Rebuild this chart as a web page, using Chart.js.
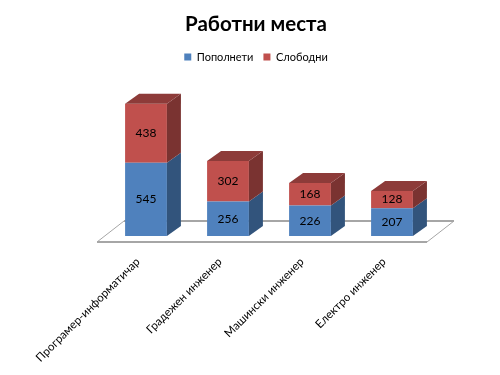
<!DOCTYPE html>
<html>
<head>
<meta charset="utf-8">
<style>
  body { margin: 0; background: #fff; }
</style>
<script src="https://cdn.jsdelivr.net/npm/chart.js@4"></script>
</head>
<body>
<canvas id="myChart" width="500" height="375"></canvas>
<script>
var categories = ['Програмер-информатичар', 'Градежен инженер', 'Машински инженер', 'Електро инженер'];
var filled = [545, 256, 226, 207];
var vacant = [438, 302, 168, 128];

var depthX = 14, depthY = 10;
var sideColors = ['#32547c', '#7a3331'];
var topColor = '#8d3b39';

function poly(ctx, pts, fill) {
    ctx.beginPath();
    ctx.moveTo(pts[0][0], pts[0][1]);
    for (var i = 1; i < pts.length; i++) ctx.lineTo(pts[i][0], pts[i][1]);
    ctx.closePath();
    ctx.fillStyle = fill;
    ctx.fill();
}

// floor under the bars, side and top faces, value labels
var fake3d = {
    id: 'fake3d',
    beforeDatasetsDraw: function (chart) {
        var ctx = chart.ctx, a = chart.chartArea;
        var l = a.left - 8, r = a.right - 6, y = a.bottom + 6;
        ctx.save();
        ctx.strokeStyle = '#a6a6a6';
        ctx.lineWidth = 1;
        ctx.beginPath();
        ctx.moveTo(l, y);
        ctx.lineTo(l + 27, y - 21);
        ctx.lineTo(r + 27, y - 21);
        ctx.lineTo(r, y);
        ctx.stroke();
        ctx.lineWidth = 2;
        ctx.beginPath();
        ctx.moveTo(l, y);
        ctx.lineTo(r, y);
        ctx.stroke();
        ctx.beginPath();
        ctx.moveTo(l + 27, y - 21);
        ctx.lineTo(r + 27, y - 21);
        ctx.stroke();
        ctx.restore();
    },
    afterDatasetsDraw: function (chart) {
        var ctx = chart.ctx;
        ctx.save();
        chart.data.datasets.forEach(function (ds, d) {
            chart.getDatasetMeta(d).data.forEach(function (bar) {
                var left = bar.x - bar.width / 2, right = bar.x + bar.width / 2;
                poly(ctx, [[right, bar.y], [right + depthX, bar.y - depthY], [right + depthX, bar.base - depthY], [right, bar.base]], sideColors[d]);
                if (d == chart.data.datasets.length - 1) {
                    poly(ctx, [[left, bar.y], [left + depthX, bar.y - depthY], [right + depthX, bar.y - depthY], [right, bar.y]], topColor);
                }
            });
        });
        ctx.font = '12px Lato, "Noto Sans"';
        ctx.fillStyle = '#000';
        ctx.textAlign = 'center';
        ctx.textBaseline = 'middle';
        chart.data.datasets.forEach(function (ds, d) {
            chart.getDatasetMeta(d).data.forEach(function (bar, i) {
                ctx.fillText(ds.data[i], bar.x, (bar.y + bar.base) / 2);
            });
        });
        ctx.restore();
    }
};

var ctx = document.getElementById('myChart').getContext('2d');
var myChart = new Chart(ctx, {
    type: 'bar',
    plugins: [fake3d],
    data: {
        labels: categories,
        datasets: [{
            label: 'Пополнети',
            data: filled,
            backgroundColor: '#4f81bd',
            barPercentage: 0.51,
            categoryPercentage: 1
        }, {
            label: 'Слободни',
            data: vacant,
            backgroundColor: '#c0504d',
            barPercentage: 0.51,
            categoryPercentage: 1
        }]
    },
    options: {
        responsive: false,
        animation: false,
        layout: { padding: { left: 12, right: 0, top: 0, bottom: 0 } },
        plugins: {
            tooltip: { enabled: false },
            title: {
                display: true,
                text: 'Работни места',
                color: '#000',
                font: { family: 'Lato, "Noto Sans"', size: 20.5, weight: 'bold' },
                padding: { top: 12, bottom: 5 }
            },
            legend: {
                display: true,
                labels: {
                    color: '#000',
                    font: { family: 'Lato, "Noto Sans"', size: 11 },
                    boxWidth: 7,
                    boxHeight: 7,
                    padding: 10
                }
            }
        },
        scales: {
            x: {
                stacked: true,
                grid: { display: false },
                border: { display: false },
                ticks: {
                    color: '#000',
                    font: { family: 'Lato, "Noto Sans"', size: 11.5 },
                    autoSkip: false,
                    minRotation: 45,
                    maxRotation: 45,
                    padding: 11,
                    labelOffset: -8
                },
                afterFit: function (scale) { scale.height = 139; }
            },
            y: {
                stacked: true,
                min: 0,
                max: 1215,
                grid: { display: false },
                border: { display: false },
                ticks: { display: false },
                afterFit: function (scale) { scale.width = 93; }
            },
            yRight: {
                position: 'right',
                grid: { display: false },
                border: { display: false },
                ticks: { display: false },
                afterFit: function (scale) { scale.width = 67; }
            }
        }
    }
});
</script>
</body>
</html>
